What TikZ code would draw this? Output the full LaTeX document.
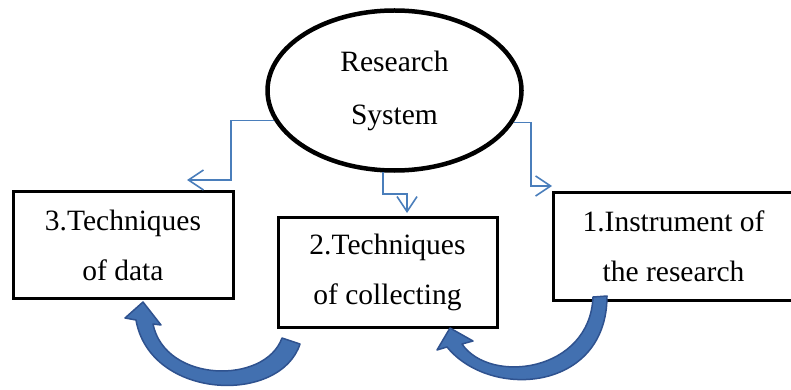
\documentclass[tikz,border=0pt]{standalone}
\usepackage{fontspec}
\setmainfont{Liberation Serif}
\usetikzlibrary{shapes.geometric,arrows.meta}
\definecolor{linkblue}{RGB}{74,126,187}
\definecolor{bendfill}{RGB}{66,112,176}
\definecolor{benddraw}{RGB}{47,82,143}

\begin{document}
\begin{tikzpicture}[x=1pt, y=-1pt,
    stepbox/.style={draw=black, line width=3pt, inner sep=0pt, align=center, font=\fontsize{29.5}{50}\selectfont},
    link/.style={draw=linkblue, line width=1.6pt, -{Straight Barb[length=15pt,width=20pt]}},
    bentarrow/.style={fill=bendfill, draw=benddraw, line width=1.5pt, line join=round}]
    \useasboundingbox (0,0) rectangle (791,390);
    \node[ellipse, draw=black, line width=4.5pt, minimum width=254pt, minimum height=160pt, inner sep=0pt, align=center, font=\fontsize{29.5}{53}\selectfont] (sys) at (394.5,90.5) {Research\\System};
    \node[stepbox, minimum width=220pt, minimum height=107pt] (tech3) at (123,245) {3.Techniques\\of data};
    \node[stepbox, minimum width=219pt, minimum height=110pt] (tech2) at (387.5,272) {2.Techniques\\of collecting};
    \node[stepbox, minimum width=241pt, minimum height=108pt] (instr1) at (673.5,246.5) {1.Instrument of\\the research};
    \coordinate (end3) at (187,180);
    \coordinate (end2) at (407,213);
    \coordinate (end1) at (552,186);
    \draw[link] (sys.194.6) -| (231,180) -- (end3);
    \draw[link] (sys.262.5) |- (407,194) -- (end2);
    \draw[link] (sys.-15) -| (531,186) -- (end1);
    \draw[bentarrow] (300,344) .. controls (280,405) and (150,400) .. (136,320) -- (125,318) -- (143,302) -- (161,325) -- (153,324) .. controls (165,383) and (265,385) .. (282,338) -- cycle;
    \draw[bentarrow] (607,296) .. controls (607,392) and (490,400) .. (447,347) -- (437,350) -- (450,328) -- (473,341) -- (462,344) .. controls (490,385) and (590,372) .. (593,297) -- cycle;
\end{tikzpicture}
\end{document}
